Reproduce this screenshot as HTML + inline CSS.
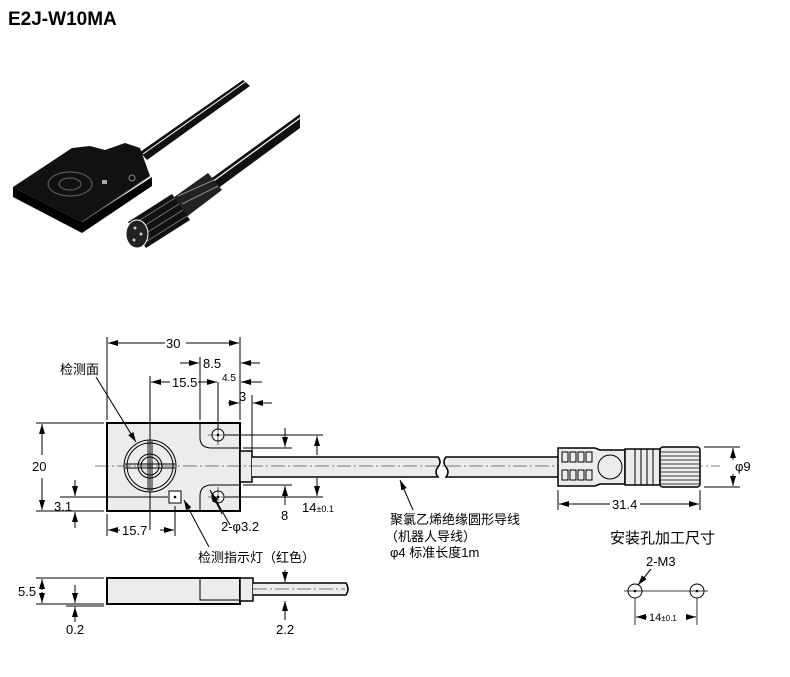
<!DOCTYPE html>
<html><head><meta charset="utf-8"><style>
html,body{margin:0;padding:0;background:#fff;}
svg{display:block;font-family:"Liberation Sans","Noto Sans CJK SC",sans-serif;}
</style></head><body>
<svg width="790" height="677" viewBox="0 0 790 677" xmlns="http://www.w3.org/2000/svg">
<defs>
<marker id="a" markerWidth="10" markerHeight="6" refX="10" refY="3" orient="auto" markerUnits="userSpaceOnUse"><path d="M0,0 L10,3 L0,6 z" fill="#000"/></marker>
</defs>
<text x="8" y="25" font-size="19" font-weight="bold">E2J-W10MA</text>

<!-- photo -->
<g>
<path d="M140,152 L243,80 L250,86 L147,160 z" fill="#111"/>
<path d="M143,154 L245,82" stroke="#fff" stroke-width="1"/>
<path d="M205,183 L300,114 L300,128 L213,192 z" fill="#111"/>
<path d="M208,185 L300,118" stroke="#fff" stroke-width="1.2"/>
<path d="M13,187 L72,148 L90,146 L105,150 L125,143 L140,148 L150,176 L82,222 L13,187 z" fill="#111"/>
<path d="M13,187 L82,222 L82,233 L13,197 z" fill="#000"/>
<path d="M82,222 L152,177 L152,186 L82,233 z" fill="#000"/>
<path d="M82,222 L150,176" stroke="#666" stroke-width="1"/>
<ellipse cx="70" cy="184" rx="22" ry="12" fill="none" stroke="#666" stroke-width="1"/>
<ellipse cx="70" cy="184" rx="11" ry="6" fill="none" stroke="#666" stroke-width="1"/>
<rect x="102" y="180" width="5" height="4" fill="#aaa"/>
<circle cx="132" cy="178" r="3" fill="none" stroke="#888"/>
<path d="M170,200 L208,173 L222,190 L185,218 z" fill="#222"/>
<path d="M178,196 L214,180 M182,204 L218,186" stroke="#888" stroke-width="1"/>
<path d="M128,222 L172,194 L190,220 L146,248 z" fill="#111"/>
<path d="M132,225 L175,198 M136,231 L179,204 M140,237 L183,210 M144,243 L187,216" stroke="#777" stroke-width="1"/>
<ellipse cx="137" cy="234" rx="11" ry="14" fill="#222" stroke="#fff" stroke-width="1"/>
<circle cx="135" cy="228" r="1.5" fill="#ccc"/><circle cx="141" cy="234" r="1.5" fill="#ccc"/><circle cx="134" cy="240" r="1.5" fill="#ccc"/>
</g>

<g stroke="#000" fill="none" stroke-width="1">
<rect x="107" y="423" width="133" height="88" fill="#ececec" stroke-width="2"/>
<path d="M200,423 V438 Q200,448 212,448 H240 M200,511 V496 Q200,485 212,485 H240"/>
<circle cx="150" cy="466" r="26"/><circle cx="150" cy="466" r="23"/>
<circle cx="150" cy="466" r="12"/><circle cx="150" cy="466" r="9"/>
<path d="M148,441 V491 M152,441 V491 M125,464 H175 M125,468 H175" stroke-width="0.9"/>
<rect x="169" y="491" width="12" height="12" fill="#fff"/>
<circle cx="175" cy="497" r="0.8" fill="#000"/>
<circle cx="218" cy="435" r="6" fill="#fff"/><circle cx="218" cy="435" r="0.8" fill="#000"/>
<circle cx="218" cy="497" r="6" fill="#fff"/><circle cx="218" cy="497" r="0.8" fill="#000"/>
<path d="M208,435 H228 M218,425 V445 M208,497 H228 M218,487 V507" stroke-width="0.6"/>
<rect x="240" y="451" width="12" height="31" fill="#ececec" stroke-width="1.5"/>
<path d="M252,457 H438 Q442,462 438,467 Q434,472 438,477 H252" fill="#ececec" stroke-width="1.5"/>
<path d="M558,457 H446 Q442,462 446,467 Q450,472 446,477 H558" fill="#ececec" stroke-width="1.5"/>
<path d="M95,466 H720" stroke-dasharray="14,3,2,3" stroke-width="0.6"/>
<path d="M558,448 H595 L600,450 H625 V484 H600 L595,486 H558 z" fill="#ececec" stroke-width="1.5"/>
<path d="M562,452 h6 v10 h-6z M570,452 h6 v10 h-6z M578,452 h6 v10 h-6z M586,452 h6 v10 h-6z M562,470 h6 v10 h-6z M570,470 h6 v10 h-6z M578,470 h6 v10 h-6z M586,470 h6 v10 h-6z"/>
<circle cx="610" cy="467" r="12" fill="#ececec"/>
<path d="M625,449 H660 V485 H625 z" fill="#ececec" stroke-width="1.5"/>
<path d="M635,449 V485 M641,449 V485 M647,449 V485 M653,449 V485"/>
<rect x="660" y="447" width="40" height="40" rx="3" fill="#ececec" stroke-width="1.5"/>
<path d="M660,452 H700 M660,456 H700 M660,460 H700 M660,464 H700 M660,468 H700 M660,472 H700 M660,476 H700 M660,480 H700 M660,484 H700" stroke-width="0.7"/>
<rect x="107" y="578" width="133" height="26" fill="#ececec" stroke-width="2"/>
<path d="M200,578 V600 H240" />
<rect x="240" y="578" width="13" height="23" fill="#ececec" stroke-width="1.5"/>
<path d="M253,583 H346 Q350,589 346,595 H253" fill="#ececec" stroke-width="1.5"/>
<path d="M253,589 H345" stroke-dasharray="14,3,2,3" stroke-width="0.6"/>

<path d="M107,337 V420 M240,337 V420"/>
<path d="M165,343 H108" marker-end="url(#a)"/><path d="M186,343 H239" marker-end="url(#a)"/>
<path d="M200,357 V420 M260,363 H241" marker-end="url(#a)"/>
<path d="M180,363 H199" marker-end="url(#a)"/>
<path d="M262,382 H241" marker-end="url(#a)"/>
<path d="M150,376 V530 M218,382 V430"/>
<path d="M170,382 H151" marker-end="url(#a)"/><path d="M198,382 H217" marker-end="url(#a)"/>
<path d="M252,395 V455 M228,403 H239" marker-end="url(#a)"/><path d="M272,403 H253" marker-end="url(#a)"/>
<path d="M36,423 H104 M36,511 H104"/>
<path d="M42,455 V424" marker-end="url(#a)"/><path d="M42,478 V510" marker-end="url(#a)"/>
<path d="M60,497 H168 M75,480 V496" marker-end="url(#a)"/><path d="M75,528 V512" marker-end="url(#a)"/>
<path d="M107,514 V536 M175,506 V536"/>
<path d="M120,530 H108" marker-end="url(#a)"/><path d="M160,530 H174" marker-end="url(#a)"/>
<path d="M243,448 H292 M243,485 H292 M225,435 H323 M225,497 H323"/>
<path d="M285,428 V447" marker-end="url(#a)"/><path d="M285,505 V486" marker-end="url(#a)"/>
<path d="M317,455 V436" marker-end="url(#a)"/><path d="M317,478 V496" marker-end="url(#a)"/>
<path d="M36,578 H104 M36,604 H104"/>
<path d="M42,590 V579" marker-end="url(#a)"/><path d="M42,592 V603" marker-end="url(#a)"/>
<path d="M66,606 H104 M75,585 V603" marker-end="url(#a)"/><path d="M75,622 V607" marker-end="url(#a)"/>
<path d="M285,570 V582" marker-end="url(#a)"/><path d="M285,620 V601" marker-end="url(#a)"/>
<path d="M704,447 H740 M704,487 H740"/>
<path d="M733,460 V448" marker-end="url(#a)"/><path d="M733,474 V486" marker-end="url(#a)"/>
<path d="M558,490 V510 M700,490 V510"/>
<path d="M610,504 H559" marker-end="url(#a)"/><path d="M640,504 H699" marker-end="url(#a)"/>
<path d="M96,377 L136,442" marker-end="url(#a)"/>
<path d="M209,547 L184,500" marker-end="url(#a)"/>
<path d="M230,525 L210,490"/><path d="M222,514 L211,492" marker-end="url(#a)"/>
<path d="M413,510 L400,480" marker-end="url(#a)"/>
<circle cx="635" cy="591" r="7" fill="#fff"/><circle cx="697" cy="591" r="7" fill="#fff"/>
<circle cx="635" cy="591" r="0.8" fill="#000"/><circle cx="697" cy="591" r="0.8" fill="#000"/>
<path d="M624,591 H708 M635,598 V625 M697,598 V625" stroke-width="0.8"/>
<path d="M651,569 L638,585" marker-end="url(#a)"/>
<path d="M647,617 H636" marker-end="url(#a)"/><path d="M686,617 H696" marker-end="url(#a)"/>
</g>

<g font-size="13" fill="#000">
<text x="166" y="348">30</text>
<text x="203" y="368">8.5</text>
<text x="222" y="381" font-size="10">4.5</text>
<text x="172" y="387">15.5</text>
<text x="239" y="401">3</text>
<text x="60" y="374">检测面</text>
<text x="32" y="471">20</text>
<text x="54" y="511">3.1</text>
<text x="122" y="535">15.7</text>
<text x="221" y="531">2-φ3.2</text>
<text x="281" y="520">8</text>
<text x="302" y="512">14<tspan font-size="9">±0.1</tspan></text>
<text x="198" y="562">检测指示灯（红色）</text>
<text x="18" y="596">5.5</text>
<text x="66" y="634">0.2</text>
<text x="276" y="634">2.2</text>
<text x="390" y="524">聚氯乙烯绝缘圆形导线</text>
<text x="385" y="541">（机器人导线）</text>
<text x="390" y="557">φ4  标准长度1m</text>
<text x="612" y="509">31.4</text>
<text x="735" y="471">φ9</text>
<text x="610" y="543" font-size="15">安装孔加工尺寸</text>
<text x="646" y="566">2-M3</text>
<text x="649" y="621" font-size="11">14<tspan font-size="8">±0.1</tspan></text>
</g>
</svg>
</body></html>
